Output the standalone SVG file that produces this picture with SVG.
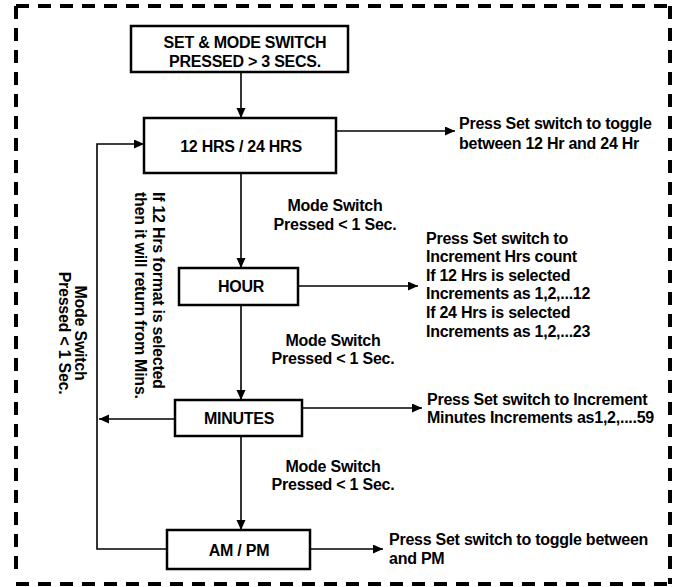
<svg xmlns="http://www.w3.org/2000/svg" width="673" height="587" viewBox="0 0 673 587">
<style>
  .box { fill: #fff; stroke: #000; stroke-width: 2.5; }
  .conn { fill: none; stroke: #000; stroke-width: 1.6; }
  .border { fill: none; stroke: #000; stroke-width: 4; stroke-dasharray: 13 9; }
  text { font-family: "Liberation Sans", Arial, Helvetica, sans-serif; font-weight: bold; font-size: 16px; letter-spacing: -0.25px; fill: #000; }
  .c { text-anchor: middle; }
</style>
<defs>
  <marker id="arr" markerUnits="userSpaceOnUse" markerWidth="11" markerHeight="10" refX="10" refY="4.5" orient="auto">
    <path d="M0,0 L10,4.5 L0,9 z" fill="#000"/>
  </marker>
</defs>
<rect width="673" height="587" fill="#fff"/>
<g id="frame">
  <line class="border" x1="16" y1="6" x2="670" y2="6" stroke-width="3.5"/>
  <line class="border" x1="16" y1="6" x2="16" y2="578"/>
  <line class="border" x1="670" y1="6" x2="670" y2="584"/>
  <line class="border" x1="16" y1="584" x2="670" y2="584" stroke-width="5"/>
</g>
<g id="connectors">
  <line class="conn" x1="241" y1="72" x2="241" y2="118" marker-end="url(#arr)"/>
  <line class="conn" x1="336" y1="131" x2="455" y2="131" marker-end="url(#arr)"/>
  <line class="conn" x1="241" y1="173" x2="241" y2="268" marker-end="url(#arr)"/>
  <line class="conn" x1="298" y1="286" x2="418" y2="286" marker-end="url(#arr)"/>
  <line class="conn" x1="241" y1="305" x2="241" y2="400" marker-end="url(#arr)"/>
  <line class="conn" x1="302" y1="408" x2="422" y2="408" marker-end="url(#arr)"/>
  <line class="conn" x1="175" y1="419" x2="99" y2="419" marker-end="url(#arr)"/>
  <line class="conn" x1="241" y1="436" x2="241" y2="530" marker-end="url(#arr)"/>
  <line class="conn" x1="310" y1="549" x2="383" y2="549" marker-end="url(#arr)"/>
  <polyline class="conn" points="167,549 97,549 97,144 144,144" marker-end="url(#arr)"/>
</g>
<g id="start">
  <rect class="box" x="131" y="26" width="217" height="46"/>
  <text class="c" x="245" y="47.5">SET &amp; MODE SWITCH</text>
  <text class="c" x="245" y="66.5">PRESSED &gt; 3 SECS.</text>
</g>
<g id="format">
  <rect class="box" x="144" y="118" width="192" height="55"/>
  <text class="c" x="241" y="151.5">12 HRS / 24 HRS</text>
</g>
<g id="hour">
  <rect class="box" x="179" y="268" width="119" height="37"/>
  <text class="c" x="241" y="291.5">HOUR</text>
</g>
<g id="minutes">
  <rect class="box" x="175" y="400" width="127" height="36"/>
  <text class="c" x="239" y="423.5">MINUTES</text>
</g>
<g id="ampm">
  <rect class="box" x="167" y="530" width="143" height="39"/>
  <text class="c" x="239" y="555.5">AM / PM</text>
</g>
<g id="labels">
  <text x="459" y="128.5">Press Set switch to toggle</text>
  <text x="459" y="148.5">between 12 Hr and 24 Hr</text>
  <text class="c" x="335" y="210.5">Mode Switch</text>
  <text class="c" x="335" y="229.5">Pressed &lt; 1 Sec.</text>
  <text x="426" y="243.5">Press Set switch to</text>
  <text x="426" y="262.1">Increment Hrs count</text>
  <text x="426" y="280.7">If 12 Hrs is selected</text>
  <text x="426" y="299.3">Increments as 1,2,...12</text>
  <text x="426" y="317.9">If 24 Hrs is selected</text>
  <text x="426" y="336.5">Increments as 1,2,...23</text>
  <text class="c" x="333" y="345.5">Mode Switch</text>
  <text class="c" x="333" y="363.5">Pressed &lt; 1 Sec.</text>
  <text x="427" y="404.5">Press Set switch to Increment</text>
  <text x="427" y="422.5">Minutes Increments as1,2,....59</text>
  <text class="c" x="333" y="471.5">Mode Switch</text>
  <text class="c" x="333" y="489.5">Pressed &lt; 1 Sec.</text>
  <text x="389" y="544.5">Press Set switch to toggle between</text>
  <text x="389" y="563.5">and PM</text>
  <text transform="translate(152.5,192) rotate(90)">If 12 Hrs format is selected</text>
  <text transform="translate(134.5,192) rotate(90)">then it will return from Mins.</text>
  <text class="c" transform="translate(74.5,333) rotate(90)">Mode Switch</text>
  <text class="c" transform="translate(58.5,333) rotate(90)">Pressed &lt; 1 Sec.</text>
</g>
</svg>
